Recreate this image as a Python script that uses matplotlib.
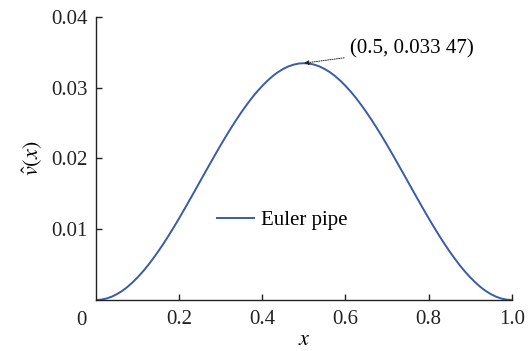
import numpy as np
import matplotlib
matplotlib.use("Agg")
from matplotlib import pyplot as plt

# v-hat, x from 0 to 0.5 in steps of 0.0125;
# the curve is symmetric about x = 0.5
v_half = [0.0, 0.00005, 0.00021, 0.00046, 0.00082, 0.00127, 0.00182, 0.00247,
          0.0032, 0.00401, 0.0049, 0.00587, 0.0069, 0.00799, 0.00914, 0.01033,
          0.01156, 0.01283, 0.01412, 0.01542, 0.01674, 0.01805, 0.01935,
          0.02064, 0.02191, 0.02314, 0.02433, 0.02548, 0.02657, 0.0276,
          0.02857, 0.02946, 0.03027, 0.031, 0.03165, 0.0322, 0.03265, 0.03301,
          0.03326, 0.03342, 0.03347]
v_vals = v_half + v_half[-2::-1]
x_vals = np.linspace(0.0, 1.0, len(v_vals))
x_ticks = [0.2, 0.4, 0.6, 0.8, 1.0]
y_ticks = [0.01, 0.02, 0.03, 0.04]
peak = (0.5, 0.03347)

plt.rcParams["font.family"] = ["Liberation Serif", "DejaVu Serif"]
plt.rcParams["mathtext.fontset"] = "stix"

fig = plt.figure(figsize=(5.32, 3.51), dpi=100)
ax = fig.add_axes([0.1805, 0.1453, 0.7815, 0.8063])

ax.plot(x_vals, v_vals, color="#3a5ba8", lw=1.4, label="Euler pipe")

ax.set_xlim(0, 1.0)
ax.set_ylim(0, 0.04)
ax.set_xticks(x_ticks)
ax.set_xticklabels(["0.2", "0.4", "0.6", "0.8", "1.0"])
ax.set_yticks(y_ticks)
ax.set_yticklabels(["0.01", "0.02", "0.03", "0.04"])
ax.tick_params(direction="in", length=4, width=1, labelsize=15, pad=6,
               colors="#222222")
ax.tick_params(axis="x", pad=7)
ax.spines["top"].set_visible(False)
ax.spines["right"].set_visible(False)
for s in ("left", "bottom"):
    ax.spines[s].set_color("#222222")
    ax.spines[s].set_linewidth(1)

# shared origin label
ax.text(-0.035, -0.0015, "0", fontsize=15, ha="center", va="top",
        color="#222222", transform=ax.transData, clip_on=False)

ax.set_xlabel(r"$x$", fontsize=16, labelpad=2)
ax.set_ylabel(r"$\hat{v}(x)$", fontsize=16, labelpad=5)

ax.annotate("(0.5, 0.033 47)", xy=peak, xytext=(0.61, 0.0355),
            fontsize=15, va="center", ha="left",
            arrowprops=dict(arrowstyle="-|>", linestyle=(0, (1, 1.3)),
                            color="#222222", lw=0.7, mutation_scale=7,
                            shrinkA=2, shrinkB=0))

ax.legend(loc="upper left", bbox_to_anchor=(0.245, 0.383), frameon=False,
          fontsize=15, handlelength=1.8, handletextpad=0.35)

fig.savefig("out.png", dpi=100)
